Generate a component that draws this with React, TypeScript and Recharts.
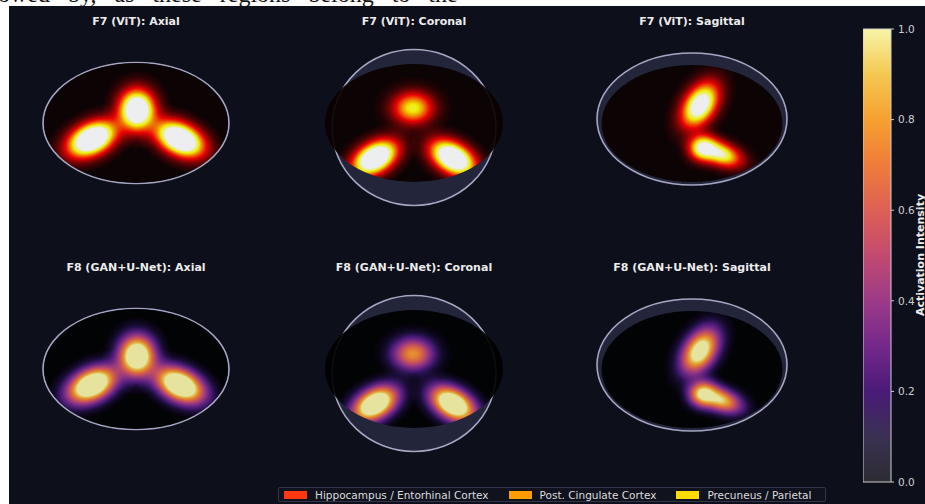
import { ScatterChart, Scatter, XAxis, YAxis, BarChart, Bar } from 'recharts'

// slice geometry, in panel units (1 unit = 1 px), y pointing up
const viewNames = ['Axial', 'Coronal', 'Sagittal']
const modelNames = ['F7 (ViT)', 'F8 (GAN+U-Net)']
const modelColormaps = ['hot', 'inferno']

const outlineShapes = [
  { x: 0, y: 0, rx: 93, ry: 60.5 },
  { x: 0, y: -4.5, rx: 82, ry: 78 },
  { x: 0, y: 4, rx: 95, ry: 66 },
]

const fieldShapes = [
  { x: 0, y: 0, rx: 92, ry: 60 },
  { x: 0, y: 0, rx: 89, ry: 59 },
  { x: 0, y: -0.5, rx: 90.5, ry: 58.5 },
]

// activation blobs: centre, spread (sx, sy), tilt in degrees, peak intensity (clipped at 1.0)
const axialRegions = [
  { region: 'Post. Cingulate Cortex', x: 1, y: 13, sx: 11.5, sy: 13, tilt: 0, peak: 1.5 },
  { region: 'Hippocampus / Entorhinal Cortex', x: -44, y: -16, sx: 16.5, sy: 10, tilt: 26, peak: 1.6 },
  { region: 'Precuneus / Parietal', x: 44, y: -16, sx: 16.5, sy: 10, tilt: -26, peak: 1.6 },
]

const coronalRegions = [
  { region: 'Post. Cingulate Cortex', x: -1, y: 15, sx: 13.5, sy: 10.5, tilt: 0, peak: 0.8 },
  { region: 'Hippocampus / Entorhinal Cortex', x: -39, y: -35, sx: 15.5, sy: 9.5, tilt: 30, peak: 1.55 },
  { region: 'Precuneus / Parietal', x: 39, y: -35, sx: 15.5, sy: 9.5, tilt: -30, peak: 1.55 },
]

const sagittalRegions = [
  { region: 'Precuneus / Parietal', x: 8, y: 18, sx: 16, sy: 10, tilt: 57, peak: 1.25 },
  { region: 'Hippocampus / Entorhinal Cortex', x: 11, y: -25, sx: 9, sy: 8, tilt: 0, peak: 1.0 },
  { region: 'Post. Cingulate Cortex', x: 29, y: -31, sx: 14, sy: 7.5, tilt: -20, peak: 0.95 },
]

const viewRegions = [axialRegions, coronalRegions, sagittalRegions]

const legendNames = ['Hippocampus / Entorhinal Cortex', 'Post. Cingulate Cortex', 'Precuneus / Parietal']
const legendColors = ['#ff3814', '#ff9c00', '#ffdc00']

const colorbarTicks = [0, 0.2, 0.4, 0.6, 0.8, 1.0]
const colorbarData = [{ band: 'intensity', value: 1 }]

const hotStops: [number, string][] = [
  [0, '#0b0000'],
  [0.365, '#ff0000'],
  [0.746, '#ffff00'],
  [1, '#ffffff'],
]

const infernoStops: [number, string][] = [
  [0, '#000000'],
  [0.1, '#1c0c3a'],
  [0.2, '#4a1a78'],
  [0.3, '#74288a'],
  [0.4, '#9c3a88'],
  [0.5, '#c24a70'],
  [0.6, '#de6056'],
  [0.7, '#ee7c3a'],
  [0.8, '#f6a030'],
  [0.9, '#f4c850'],
  [1, '#f8f4a8'],
]

const colorbarStops: [number, string][] = [[0, '#2c2c32'], [0.1, '#3a3152'], ...infernoStops.slice(2)]

const PANEL_W = 260
const PANEL_H = 200
const X_DOMAIN = [-130, 130]
const Y_DOMAIN = [-100, 100]
const UNIT = PANEL_W / (X_DOMAIN[1] - X_DOMAIN[0])
const COL_X = [136, 414, 692]
const ROW_Y = [123, 368.5]
// blobs are painted as alpha = peak / GAIN, the filter scales back up
const GAIN = 2

const BG = '#0d0f1a'
const FONT = '"DejaVu Sans", sans-serif'

const hexRgb = (h: string) => [1, 3, 5].map((i) => parseInt(h.slice(i, i + 2), 16) / 255)

function sampleStops(stops: [number, string][], t: number) {
  for (let i = 1; i < stops.length; i++) {
    if (t <= stops[i][0]) {
      const [t0, c0] = stops[i - 1]
      const [t1, c1] = stops[i]
      const f = (t - t0) / (t1 - t0)
      const a = hexRgb(c0)
      const b = hexRgb(c1)
      return a.map((v, k) => v + (b[k] - v) * f)
    }
  }
  return hexRgb(stops[stops.length - 1][1])
}

function lookupTable(stops: [number, string][], ch: number) {
  const out: string[] = []
  for (let i = 0; i <= 50; i++) out.push(sampleStops(stops, i / 50)[ch].toFixed(3))
  return out.join(' ')
}

// gaussian falloff out to 3 sigma
const gaussOffsets = Array.from({ length: 21 }, (_, i) => i / 20)

// accumulated alpha -> intensity -> colour lookup
function HeatFilter({ id, stops }: { id: string; stops: [number, string][] }) {
  return (
    <filter id={id} filterUnits="userSpaceOnUse" x={0} y={0} width={PANEL_W} height={PANEL_H} colorInterpolationFilters="sRGB">
      <feGaussianBlur in="SourceAlpha" stdDeviation={1} result="smooth" />
      <feColorMatrix
        in="smooth"
        type="matrix"
        values={`0 0 0 ${GAIN} 0  0 0 0 ${GAIN} 0  0 0 0 ${GAIN} 0  0 0 0 0 1`}
        result="level"
      />
      <feComponentTransfer in="level">
        <feFuncR type="table" tableValues={lookupTable(stops, 0)} />
        <feFuncG type="table" tableValues={lookupTable(stops, 1)} />
        <feFuncB type="table" tableValues={lookupTable(stops, 2)} />
      </feComponentTransfer>
    </filter>
  )
}

const OutlineShape = (p: any) => (
  <ellipse
    cx={p.cx}
    cy={p.cy}
    rx={p.payload.rx * UNIT}
    ry={p.payload.ry * UNIT}
    fill="#23263b"
    stroke="#a6a6c2"
    strokeWidth={1.6}
  />
)

const fieldShape = (id: string) => (p: any) => (
  <clipPath id={id}>
    <ellipse cx={p.cx} cy={p.cy} rx={p.payload.rx * UNIT} ry={p.payload.ry * UNIT} />
  </clipPath>
)

const BlobShape = (p: any) => {
  const d = p.payload
  return (
    <ellipse
      cx={p.cx}
      cy={p.cy}
      rx={3 * d.sx * UNIT}
      ry={3 * d.sy * UNIT}
      fill="url(#gauss)"
      fillOpacity={d.peak / GAIN}
      transform={`rotate(${-d.tilt} ${p.cx} ${p.cy})`}
    />
  )
}

function SlicePanel({ row, col }: { row: number; col: number }) {
  const key = `${modelNames[row].slice(0, 2)}-${viewNames[col]}`
  return (
    <>
      <div
        style={{
          position: 'absolute',
          left: COL_X[col] - 120,
          width: 240,
          top: ROW_Y[row] - 108,
          textAlign: 'center',
          font: `bold 11px ${FONT}`,
          lineHeight: '14px',
          color: '#ececec',
        }}
      >
        {`${modelNames[row]}: ${viewNames[col]}`}
      </div>
      <div style={{ position: 'absolute', left: COL_X[col] - PANEL_W / 2, top: ROW_Y[row] - PANEL_H / 2 }}>
        <ScatterChart width={PANEL_W} height={PANEL_H} margin={{ top: 0, right: 0, bottom: 0, left: 0 }}>
          <XAxis type="number" dataKey="x" domain={X_DOMAIN} hide />
          <YAxis type="number" dataKey="y" domain={Y_DOMAIN} hide />
          <Scatter data={[outlineShapes[col]]} shape={OutlineShape} isAnimationActive={false} />
          <Scatter data={[fieldShapes[col]]} shape={fieldShape(`field-${key}`)} isAnimationActive={false} />
          <Scatter data={viewRegions[col]} className={`heat-${key}`} shape={BlobShape} isAnimationActive={false} />
        </ScatterChart>
      </div>
    </>
  )
}

function Colorbar() {
  return (
    <>
      <div style={{ position: 'absolute', left: 863, top: 21 }}>
        <BarChart width={62} height={469} data={colorbarData} margin={{ top: 8, right: 0, bottom: 8, left: 0 }} barCategoryGap={0}>
          <XAxis dataKey="band" hide />
          <YAxis
            orientation="right"
            type="number"
            domain={[0, 1]}
            ticks={colorbarTicks}
            tickFormatter={(v: number) => v.toFixed(1)}
            tick={{ fill: '#cfcfcf', fontSize: 10.5, fontFamily: 'DejaVu Sans' }}
            tickLine={{ stroke: '#cfcfcf' }}
            tickSize={3}
            tickMargin={4}
            axisLine={false}
            width={34}
          />
          <Bar dataKey="value" fill="url(#cbar-grad)" stroke="#cfcfcf" strokeWidth={1} isAnimationActive={false} />
        </BarChart>
      </div>
      <div
        style={{
          position: 'absolute',
          left: 920,
          top: 255,
          transform: 'translate(-50%, -50%) rotate(-90deg)',
          whiteSpace: 'nowrap',
          font: `bold 11px ${FONT}`,
          color: '#ececec',
        }}
      >
        Activation Intensity
      </div>
    </>
  )
}

function RegionLegend() {
  return (
    <div
      style={{
        position: 'absolute',
        left: 278,
        top: 487,
        width: 548,
        height: 15,
        boxSizing: 'border-box',
        border: '1px solid #33364a',
        borderRadius: 2,
        background: '#10121e',
        display: 'flex',
        alignItems: 'center',
        paddingLeft: 5,
        font: `10.5px ${FONT}`,
        color: '#dcdcdc',
        whiteSpace: 'nowrap',
      }}
    >
      {legendNames.map((name, i) => (
        <div key={name} style={{ display: 'flex', alignItems: 'center', marginRight: 20 }}>
          <span style={{ width: 23, height: 8, background: legendColors[i], marginRight: 8 }} />
          <span>{name}</span>
        </div>
      ))}
    </div>
  )
}

export default function App() {
  const panels: { row: number; col: number }[] = []
  modelNames.forEach((_, row) => viewNames.forEach((__, col) => panels.push({ row, col })))
  const css = panels
    .map(({ row, col }) => {
      const key = `${modelNames[row].slice(0, 2)}-${viewNames[col]}`
      return `.heat-${key}{filter:url(#heat-${modelColormaps[row]});clip-path:url(#field-${key});opacity:0.92}`
    })
    .join('\n')

  return (
    <div style={{ position: 'absolute', left: 0, top: 0, width: 925, height: 504, overflow: 'hidden', background: '#ffffff' }}>
      <style>{css}</style>
      <svg width={0} height={0} style={{ position: 'absolute' }}>
        <defs>
          <radialGradient id="gauss">
            {gaussOffsets.map((t) => (
              <stop key={t} offset={t} stopColor="#ffffff" stopOpacity={Math.exp(-4.5 * t * t)} />
            ))}
          </radialGradient>
          <HeatFilter id="heat-hot" stops={hotStops} />
          <HeatFilter id="heat-inferno" stops={infernoStops} />
          <linearGradient id="cbar-grad" x1="0" y1="1" x2="0" y2="0">
            {colorbarStops.map(([t, c]) => (
              <stop key={t} offset={t} stopColor={c} />
            ))}
          </linearGradient>
        </defs>
      </svg>
      <div
        style={{
          position: 'absolute',
          left: -2,
          top: -17,
          font: '24px "Liberation Serif", serif',
          lineHeight: '22px',
          color: '#111',
          whiteSpace: 'nowrap',
          wordSpacing: 12,
        }}
      >
        owed by, as these regions belong to the
      </div>
      <div style={{ position: 'absolute', left: 9, top: 6, width: 916, height: 498, background: BG }} />
      {panels.map((p) => (
        <SlicePanel key={`${p.row}-${p.col}`} row={p.row} col={p.col} />
      ))}
      <Colorbar />
      <RegionLegend />
    </div>
  )
}
